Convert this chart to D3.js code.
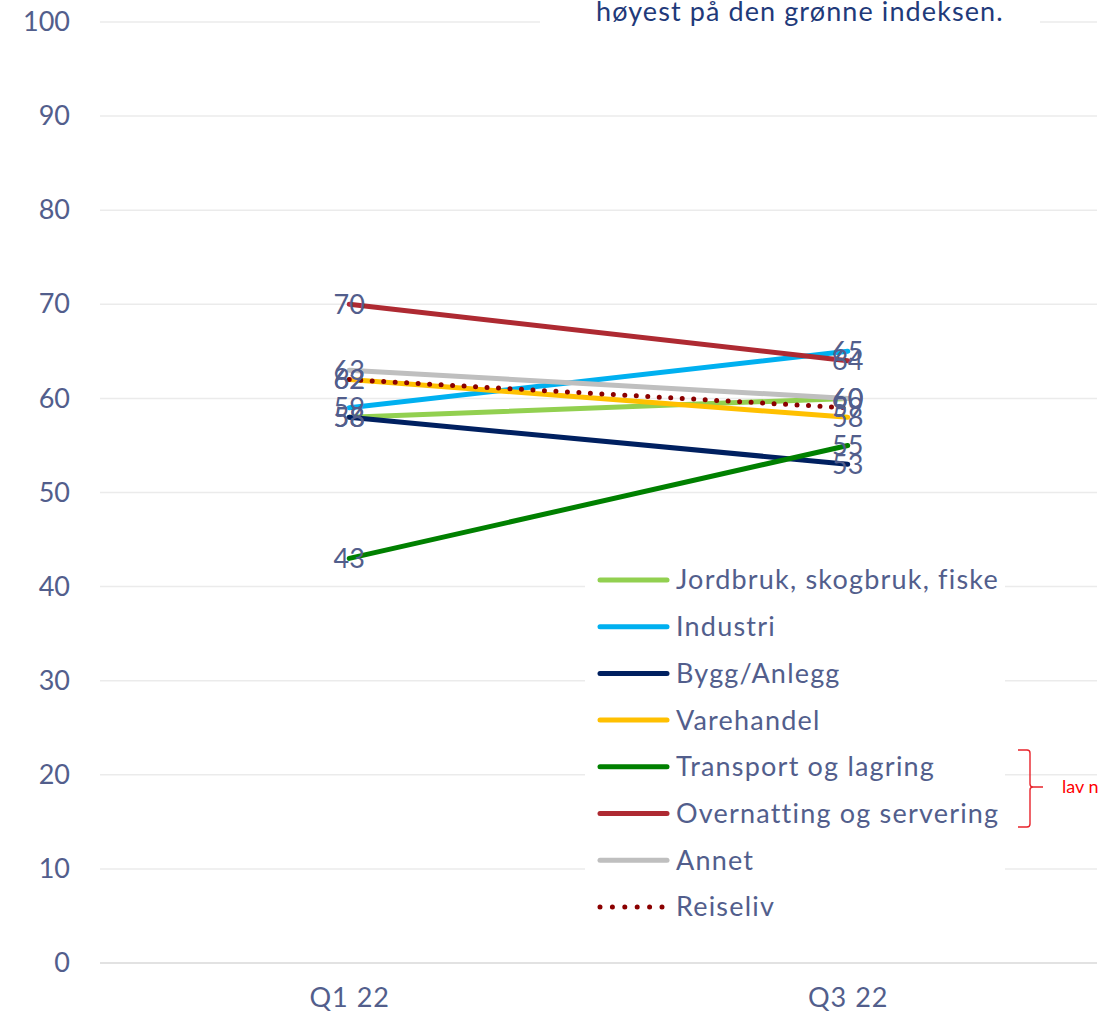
<!DOCTYPE html>
<html>
<head>
<meta charset="utf-8">
<script src="https://cdn.jsdelivr.net/npm/d3@7"></script>
<style>
  html, body { margin: 0; padding: 0; background: #fff; }
  svg { display: block; }
</style>
</head>
<body>
<svg id="chart" width="1112" height="1018"></svg>
<script>
// Periods on the x axis
const periods = ["Q1 22", "Q3 22"];

// Sector names, colours and index values per period
const seriesNames = [
  "Jordbruk, skogbruk, fiske",
  "Industri",
  "Bygg/Anlegg",
  "Varehandel",
  "Transport og lagring",
  "Overnatting og servering",
  "Annet",
  "Reiseliv"
];
const seriesColors = ["#92D050", "#00B0F0", "#002060", "#FFC000", "#008000", "#AE2A32", "#BFBFBF", "#8B0000"];
const jordbruk    = [58, 60];
const industri    = [59, 65];
const bygg        = [58, 53];
const varehandel  = [62, 58];
const transport   = [43, 55];
const overnatting = [70, 64];
const annet       = [63, 60];
const reiseliv    = [62, 59];
const seriesValues = [jordbruk, industri, bygg, varehandel, transport, overnatting, annet, reiseliv];

const yTicks = [0, 10, 20, 30, 40, 50, 60, 70, 80, 90, 100];

const textColor = "#525E8C";
const font = "Lato, 'Open Sans', sans-serif";

const svg = d3.select("#chart");

const x = d3.scalePoint().domain(periods).range([100, 1097]).padding(0.5);
const y = d3.scaleLinear().domain([0, 100]).range([963, 22]);

// Horizontal gridlines
svg.append("g")
  .selectAll("line")
  .data(yTicks.filter(d => d > 0))
  .join("line")
  .attr("x1", 100).attr("x2", 1097)
  .attr("y1", d => y(d)).attr("y2", d => y(d))
  .attr("stroke", "#EBEBEB").attr("stroke-width", 1.5);

// Baseline
svg.append("line")
  .attr("x1", 100).attr("x2", 1097)
  .attr("y1", y(0)).attr("y2", y(0))
  .attr("stroke", "#D9D9D9").attr("stroke-width", 1.5);

// Y axis labels
const yAxis = d3.axisLeft(y).tickValues(yTicks).tickSize(0).tickPadding(0);
const yg = svg.append("g").attr("transform", "translate(70,0)").call(yAxis);
yg.select(".domain").remove();
yg.selectAll("text")
  .attr("fill", textColor)
  .style("font-family", font)
  .style("font-size", "27px");

// X axis labels
const xAxis = d3.axisBottom(x).tickSize(0).tickPadding(0);
const xg = svg.append("g").attr("transform", "translate(0,988)").call(xAxis);
xg.select(".domain").remove();
xg.selectAll("text")
  .attr("fill", textColor)
  .style("font-family", font)
  .style("font-size", "27px")
  .style("letter-spacing", "1px");

// White text box at the top with the caption line
svg.append("rect").attr("x", 540).attr("y", 0).attr("width", 500).attr("height", 40).attr("fill", "#fff");
svg.append("text")
  .attr("x", 596).attr("y", 21)
  .attr("fill", "#1F3A7A")
  .style("font-family", font)
  .style("font-size", "27px")
  .style("letter-spacing", "1.1px")
  .text("høyest på den grønne indeksen.");

// Series lines
const line = d3.line().x((d, i) => x(periods[i])).y(d => y(d));
const seriesData = seriesNames.map((name, i) => ({
  name, color: seriesColors[i], values: seriesValues[i], dotted: name === "Reiseliv"
}));

svg.append("g")
  .selectAll("path")
  .data(seriesData)
  .join("path")
  .attr("d", d => line(d.values))
  .attr("fill", "none")
  .attr("stroke", d => d.color)
  .attr("stroke-width", 5)
  .attr("stroke-linecap", "round")
  .attr("stroke-dasharray", d => d.dotted ? "0 11.5" : null);

// Value labels centred on each point
const labelG = svg.append("g");
seriesData.forEach(s => {
  s.values.forEach((v, i) => {
    labelG.append("text")
      .attr("x", x(periods[i]))
      .attr("y", y(v))
      .attr("dy", "0.35em")
      .attr("text-anchor", "middle")
      .attr("fill", textColor)
      .style("font-family", font)
      .style("font-size", "27px")
      .text(v);
  });
});

// Legend on a white box
const legend = svg.append("g");
legend.append("rect").attr("x", 585).attr("y", 556).attr("width", 420).attr("height", 372).attr("fill", "#fff");
const legendTop = 580, legendStep = 46.7;
seriesData.forEach((s, i) => {
  const ly = legendTop + i * legendStep;
  legend.append("line")
    .attr("x1", 600).attr("x2", s.dotted ? 662 : 667)
    .attr("y1", ly).attr("y2", ly)
    .attr("stroke", s.color)
    .attr("stroke-width", 5)
    .attr("stroke-linecap", "round")
    .attr("stroke-dasharray", s.dotted ? "0 12.4" : null);
  legend.append("text")
    .attr("x", 676).attr("y", ly)
    .attr("dy", "0.35em")
    .attr("fill", textColor)
    .style("font-family", font)
    .style("font-size", "27px")
    .style("letter-spacing", "1.2px")
    .text(s.name);
});

// Red brace marking the low-n sectors
const by0 = 750, by1 = 827, bm = 787;
svg.append("path")
  .attr("d", `M1018,${by0} L1027,${by0} Q1030,${by0} 1030,${by0 + 3} L1030,${bm - 3} Q1030,${bm} 1033,${bm} L1043,${bm} M1033,${bm} Q1030,${bm} 1030,${bm + 3} L1030,${by1 - 3} Q1030,${by1} 1027,${by1} L1018,${by1}`)
  .attr("fill", "none")
  .attr("stroke", "#E8232B")
  .attr("stroke-width", 1.4);
svg.append("text")
  .attr("x", 1062).attr("y", bm)
  .attr("dy", "0.35em")
  .attr("fill", "#FF0000")
  .style("font-family", font)
  .style("font-size", "18px")
  .text("lav n");
</script>
</body>
</html>
